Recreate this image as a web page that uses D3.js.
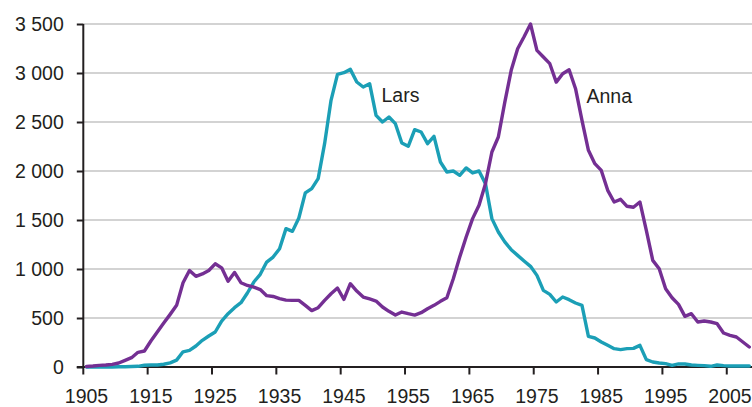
<!DOCTYPE html>
<html>
<head>
<meta charset="utf-8">
<script src="https://cdn.jsdelivr.net/npm/d3@7/dist/d3.min.js"></script>
<style>
  html, body { margin: 0; padding: 0; background: #ffffff; }
  svg { display: block; }
  text { font-family: "Liberation Sans", Arial, sans-serif; fill: #231f20; }
</style>
</head>
<body>
<svg id="chart" width="752" height="407"></svg>
<script>
// ---- Data ----
const years = d3.range(1905, 2009);           // categories 1905..2008
const tickYears = [1905, 1915, 1925, 1935, 1945, 1955, 1965, 1975, 1985, 1995, 2005];
const yTicks = [0, 500, 1000, 1500, 2000, 2500, 3000, 3500];

const anna = [
  5, 10, 17, 20, 27, 41, 68, 95, 150, 163,            // 1905-1914
  265, 357, 449, 537, 629, 860, 985, 925, 950, 985,   // 1915-1924
  1053, 1012, 875, 965, 860, 832, 815, 790, 728, 720, // 1925-1934
  697, 682, 680, 680, 629, 575, 605, 680, 748, 806,   // 1935-1944
  690, 850, 775, 714, 694, 673, 612, 568, 530, 561,   // 1945-1954
  544, 530, 554, 595, 629, 670, 707, 901, 1122, 1327, // 1955-1964
  1514, 1650, 1871, 2194, 2347, 2700, 3027, 3248, 3370, 3500, // 1965-1974
  3231, 3163, 3095, 2907, 2993, 3033, 2840, 2517, 2211, 2075, // 1975-1984
  2006, 1803, 1684, 1711, 1640, 1630, 1684, 1395, 1088, 1003, // 1985-1994
  799, 707, 639, 517, 544, 459, 469, 459, 442, 347,   // 1995-2004
  323, 306, 255, 204                                  // 2005-2008
];

const lars = [
  0, 0, 0, 0, 0, 2, 3, 5, 7, 18,                      // 1905-1914
  20, 20, 28, 42, 70, 155, 170, 214, 272, 316,        // 1915-1924
  357, 469, 544, 605, 656, 755, 867, 946, 1071, 1122, // 1925-1934
  1207, 1412, 1384, 1520, 1776, 1820, 1922, 2279, 2721, 2986, // 1935-1944
  3003, 3037, 2908, 2857, 2891, 2568, 2500, 2551, 2483, 2286, // 1945-1954
  2252, 2422, 2398, 2279, 2354, 2092, 1990, 2000, 1956, 2031, // 1955-1964
  1980, 2000, 1871, 1514, 1378, 1276, 1197, 1139, 1082, 1027, // 1965-1974
  935, 782, 741, 663, 714, 687, 653, 629, 313, 296,   // 1975-1984
  255, 221, 187, 177, 187, 190, 221, 75, 51, 41,      // 1985-1994
  34, 17, 31, 31, 20, 17, 14, 7, 20, 14,              // 1995-2004
  10, 10, 10, 10                                      // 2005-2008
];

const seriesNames = ["Lars", "Anna"];

// ---- Layout ----
const mLeft = 83.3, mRight = 752.5, mTop = 24, mBottom = 367;
const svg = d3.select("#chart");

const x = d3.scaleBand().domain(years).range([mLeft, mRight]).padding(0);
const bw = x.bandwidth();
const cx = yr => x(yr) + bw / 2;
const y = d3.scaleLinear().domain([0, 3500]).range([mBottom, mTop]);

const textColor = "#231f20";
const colors = { Lars: "#1b9fb6", Anna: "#742f93" };
const fmt = d => d3.format(",")(d).replace(/,/g, " ");

// gridlines
svg.append("g").selectAll("line")
  .data(yTicks.filter(d => d > 0))
  .join("line")
  .attr("x1", mLeft).attr("x2", mRight)
  .attr("y1", d => y(d)).attr("y2", d => y(d))
  .attr("stroke", "#d3d3d3").attr("stroke-width", 2);

// y axis
const yAxis = d3.axisLeft(y).tickValues(yTicks).tickSize(6.5).tickPadding(13).tickFormat(fmt);
const gy = svg.append("g").attr("transform", `translate(${mLeft},0)`).call(yAxis);
gy.select(".domain").attr("stroke", textColor).attr("stroke-width", 2)
  .attr("d", `M0,${mTop}V${mBottom}`);
gy.selectAll(".tick line").attr("stroke", textColor).attr("stroke-width", 2);
gy.selectAll(".tick text").attr("font-size", "19.5px").attr("fill", textColor)
  .style("font-family", '"Liberation Sans", Arial, sans-serif');

// x axis
const xAxis = d3.axisBottom(x).tickValues(tickYears).tickSize(0).tickPadding(0);
const gx = svg.append("g").attr("transform", `translate(0,${mBottom})`).call(xAxis);
gx.select(".domain").attr("stroke", textColor).attr("stroke-width", 2)
  .attr("d", `M${mLeft - 6.5},0H${mRight}`);
gx.selectAll(".tick text").attr("font-size", "19.5px").attr("fill", textColor)
  .style("font-family", '"Liberation Sans", Arial, sans-serif')
  .attr("y", 35.5).attr("dy", null);
// tick marks at category boundaries
gx.selectAll(".tick").append("line")
  .attr("x1", -bw / 2).attr("x2", -bw / 2)
  .attr("y1", 0).attr("y2", 7.5)
  .attr("stroke", textColor).attr("stroke-width", 2);

// lines
const line = d3.line().x((d, i) => cx(years[i])).y(d => y(d)).curve(d3.curveLinear);
const dataBy = { Lars: lars, Anna: anna };
seriesNames.forEach(name => {
  svg.append("path")
    .datum(dataBy[name])
    .attr("d", line)
    .attr("fill", "none")
    .attr("stroke", colors[name])
    .attr("stroke-width", 3.4)
    .attr("stroke-linejoin", "round")
    .attr("stroke-linecap", "round");
});

// series labels
svg.append("text").attr("x", 381.5).attr("y", 101.5)
  .attr("font-size", "19.5px").attr("fill", textColor).text("Lars");
svg.append("text").attr("x", 586.5).attr("y", 102.5)
  .attr("font-size", "19.5px").attr("fill", textColor).text("Anna");
</script>
</body>
</html>
